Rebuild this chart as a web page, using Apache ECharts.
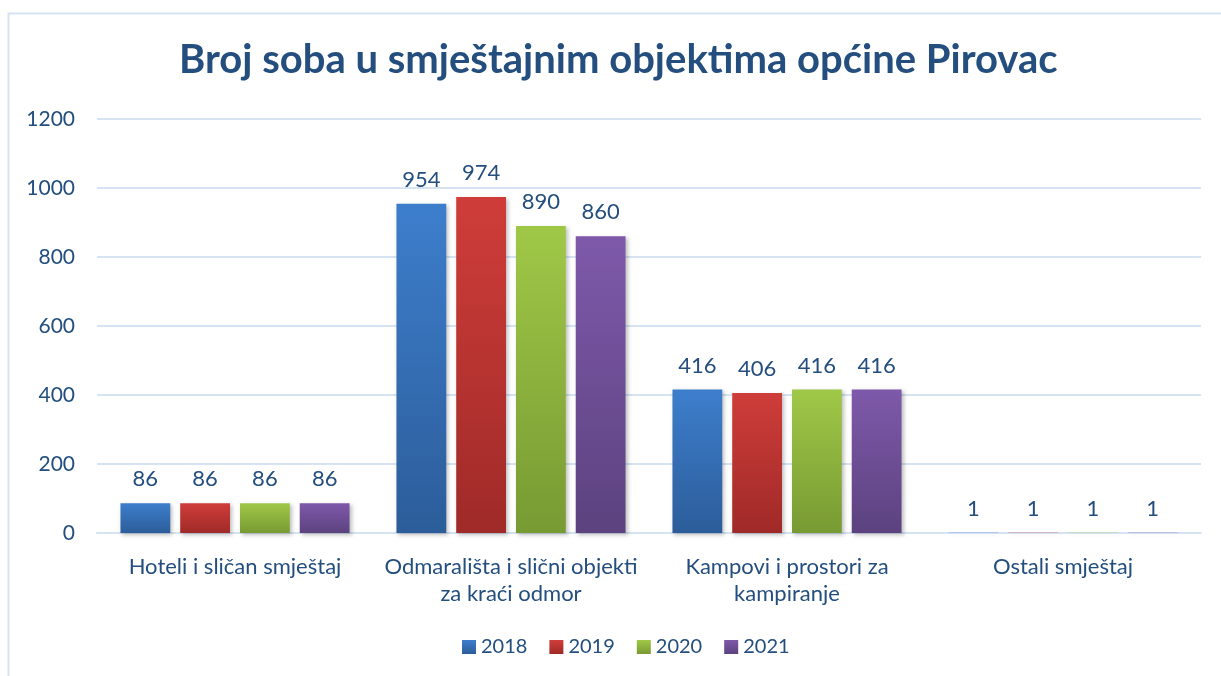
<!DOCTYPE html>
<html>
<head>
<meta charset="utf-8">
<script src="https://cdn.jsdelivr.net/npm/echarts@6/dist/echarts.min.js"></script>
<style>
  html, body { margin: 0; padding: 0; background: #fff; }
  #chart { width: 1221px; height: 676px; }
</style>
</head>
<body>
<div id="chart"></div>
<script>
// kategorije i vrijednosti
const categories = [
  "Hoteli i sličan smještaj",
  "Odmarališta i slični objekti\nza kraći odmor",
  "Kampovi i prostori za\nkampiranje",
  "Ostali smještaj",
];
const years = ["2018", "2019", "2020", "2021"];
const v2018 = [86, 954, 416, 1];
const v2019 = [86, 974, 406, 1];
const v2020 = [86, 890, 416, 1];
const v2021 = [86, 860, 416, 1];
const yTicks = [0, 200, 400, 600, 800, 1000, 1200];

const textColor = "#234E7E";
const font = "Lato";
// boje: gornja i donja nijansa gradijenta
const colors = [
  ["#3D7ECC", "#2C5D9A"],
  ["#CF3D39", "#9F2A28"],
  ["#A0C847", "#789A33"],
  ["#7E59AA", "#5C427F"],
];

function grad(c) {
  return new echarts.graphic.LinearGradient(0, 0, 0, 1, [
    { offset: 0, color: c[0] },
    { offset: 1, color: c[1] },
  ]);
}

const seriesData = [v2018, v2019, v2020, v2021];
const series = years.map((y, i) => ({
  name: y,
  type: "bar",
  data: seriesData[i],
  barGap: "20%",
  barCategoryGap: "17%",
  itemStyle: {
    color: grad(colors[i]),
    shadowBlur: 4,
    shadowColor: "rgba(0,0,0,0.25)",
    shadowOffsetX: 2,
    shadowOffsetY: 2,
  },
  label: {
    show: true,
    position: "top",
    distance: 13,
    color: textColor,
    fontFamily: font,
    fontSize: 22,
  },
}));

const chart = echarts.init(document.getElementById("chart"));
chart.setOption({
  animation: false,
  backgroundColor: "#fff",
  title: {
    text: "Broj soba u smještajnim objektima općine Pirovac",
    left: 174,
    top: 35,
    textStyle: {
      color: textColor,
      fontFamily: font,
      fontWeight: "bold",
      fontSize: 40,
    },
  },
  graphic: [
    {
      type: "polyline",
      shape: { points: [[8.5, 676], [8.5, 13.5], [1221, 13.5]] },
      style: { stroke: "#D6E3F3", lineWidth: 2, fill: null },
      silent: true,
    },
  ],
  legend: {
    bottom: 14,
    left: 457,
    itemWidth: 14,
    itemHeight: 14,
    itemGap: 22,
    icon: "rect",
    textStyle: { color: textColor, fontFamily: font, fontSize: 20 },
  },
  grid: { left: 97, right: 20, top: 119, bottom: 143 },
  xAxis: {
    type: "category",
    data: categories,
    axisLine: { show: true, lineStyle: { color: "#D6E3F3", width: 2 } },
    axisTick: { show: false },
    axisLabel: {
      color: textColor,
      fontFamily: font,
      fontSize: 22,
      lineHeight: 27,
      margin: 20,
      interval: 0,
    },
  },
  yAxis: {
    type: "value",
    min: yTicks[0],
    max: yTicks[yTicks.length - 1],
    interval: 200,
    axisLine: { show: false },
    axisTick: { show: false },
    splitLine: { lineStyle: { color: "#D6E3F3", width: 2 } },
    axisLabel: {
      color: textColor,
      fontFamily: font,
      fontSize: 21,
      margin: 22,
      formatter: (v) => String(v),
    },
  },
  series,
});
</script>
</body>
</html>
